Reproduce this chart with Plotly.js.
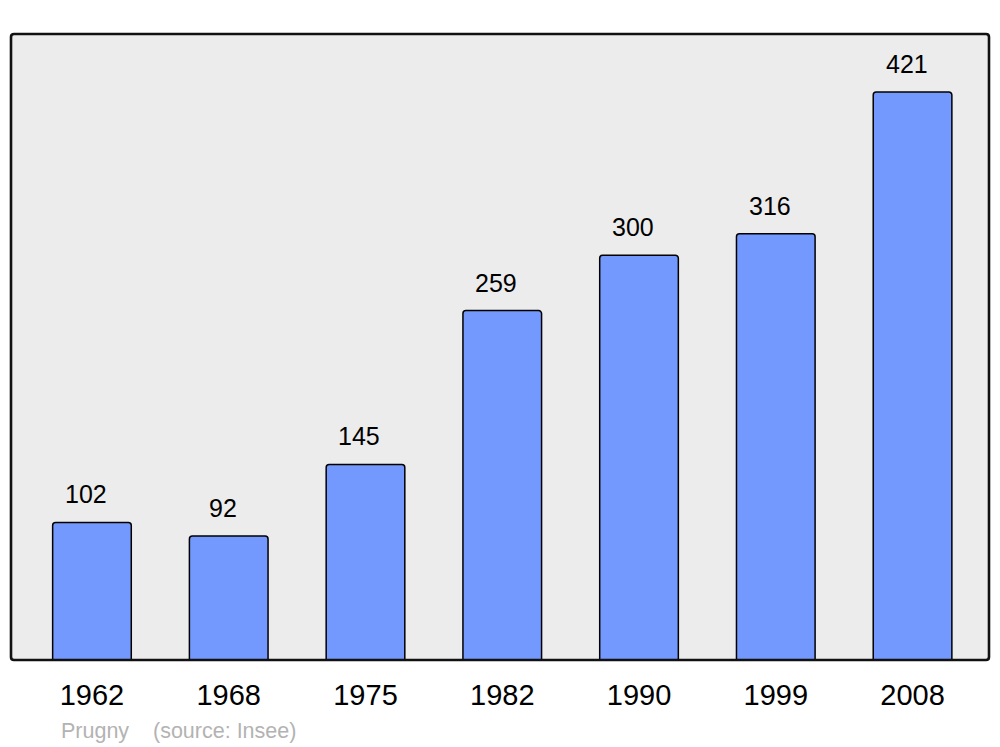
<!DOCTYPE html>
<html><head><meta charset="utf-8">
<script src="https://cdn.plot.ly/plotly-3.0.1.min.js"></script>
<style>html,body{margin:0;padding:0;background:#fff}</style>
</head><body>
<div id="chart" style="width:1000px;height:747px"></div>
<script>
const years = ["1962","1968","1975","1982","1990","1999","2008"];
const population = [102, 92, 145, 259, 300, 316, 421];
const captionName = "Prugny";
const captionSource = "(source: Insee)";

const W = 1000, H = 747, L = 11, R = 11, T = 34, B = 87;
const pw = W - L - R, ph = H - T - B;
const rx = 3 / pw, ry = 3 / ph;
const framePath = `M ${rx} 0 L ${1-rx} 0 Q 1 0 1 ${ry} L 1 ${1-ry} Q 1 1 ${1-rx} 1 L ${rx} 1 Q 0 1 0 ${1-ry} L 0 ${ry} Q 0 0 ${rx} 0 Z`;
const FONT = 'Liberation Sans, Arial, sans-serif';

const annotations = years.map((y, i) => ({
  x: i, y: population[i], xref: 'x', yref: 'y',
  text: String(population[i]), showarrow: false,
  yanchor: 'bottom', xshift: -6, yshift: 12,
  font: {family: FONT, size: 25, color: '#000'}
}));
annotations.push({
  xref: 'paper', yref: 'paper', x: (59 - L)/pw, y: -(731 - 660)/ph,
  xanchor: 'left', yanchor: 'middle', showarrow: false, text: captionName,
  font: {family: FONT, size: 21.5, color: '#b3b3b3'}
});
annotations.push({
  xref: 'paper', yref: 'paper', x: (151 - L)/pw, y: -(731 - 660)/ph,
  xanchor: 'left', yanchor: 'middle', showarrow: false, text: captionSource,
  font: {family: FONT, size: 21.5, color: '#b3b3b3'}
});

Plotly.newPlot('chart', [{
  type: 'bar', x: years, y: population,
  width: 0.575,
  marker: {color: '#7399ff', line: {color: '#000', width: 1.5}, cornerradius: 3},
  hoverinfo: 'skip'
}], {
  width: W, height: H,
  margin: {l: L, r: R, t: T, b: B, pad: 0},
  paper_bgcolor: '#fff', plot_bgcolor: '#ececec',
  showlegend: false,
  xaxis: {type: 'category', range: [-0.592, 6.559], showgrid: false, zeroline: false,
    showline: false, ticks: '', ticklabelstandoff: 15,
    tickfont: {family: FONT, size: 29, color: '#000'}},
  yaxis: {range: [0, 464], showgrid: false, zeroline: false, showticklabels: false, showline: false},
  shapes: [{type: 'path', xref: 'paper', yref: 'paper', path: framePath,
    line: {color: '#111', width: 2.6}, fillcolor: 'rgba(0,0,0,0)', layer: 'above'}],
  annotations: annotations
}, {displayModeBar: false, staticPlot: true});
</script>
</body></html>
